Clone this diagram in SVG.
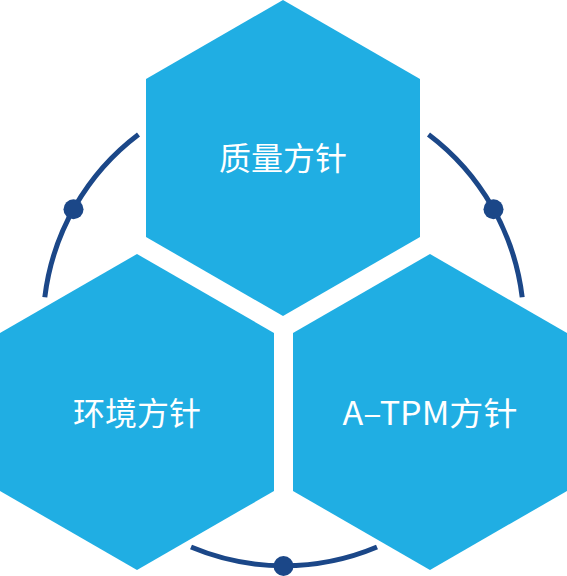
<svg xmlns="http://www.w3.org/2000/svg" width="567" height="576" viewBox="0 0 567 576">
<style>
.hex{fill:#20AEE3}
.arc{fill:none;stroke:#1B4788;stroke-width:5}
.dot{fill:#1B4788}
.lbl{fill:#ffffff;font-family:"Noto Sans CJK SC","Noto Sans",sans-serif;font-size:32px;font-weight:400;text-anchor:middle}
</style>
<rect width="567" height="576" fill="#ffffff"/>
<g id="connectors">
<path class="arc" d="M138.5,134.5 A240,240 0 0 0 44.8,297.2"/>
<path class="arc" d="M428.5,134.5 A240,240 0 0 1 522.2,297.2"/>
<path class="arc" d="M191,547 A240,240 0 0 0 377,547"/>
<circle class="dot" cx="73.5" cy="209.3" r="10"/>
<circle class="dot" cx="493.5" cy="209.3" r="10"/>
<circle class="dot" cx="283.5" cy="566" r="10"/>
</g>
<g id="node-quality">
<polygon class="hex" points="283,0 420,79 420,237 283,316 146,237 146,79"/>
<text class="lbl" x="283" y="170">质量方针</text>
</g>
<g id="node-environment">
<polygon class="hex" points="137,254 274,333 274,491 137,570 0,491 0,333"/>
<text class="lbl" x="137" y="425">环境方针</text>
</g>
<g id="node-atpm">
<polygon class="hex" points="430,254 567,333 567,491 430,570 293,491 293,333"/>
<text class="lbl" x="430" y="425" textLength="175" lengthAdjust="spacingAndGlyphs">A–TPM方针</text>
</g>
</svg>
